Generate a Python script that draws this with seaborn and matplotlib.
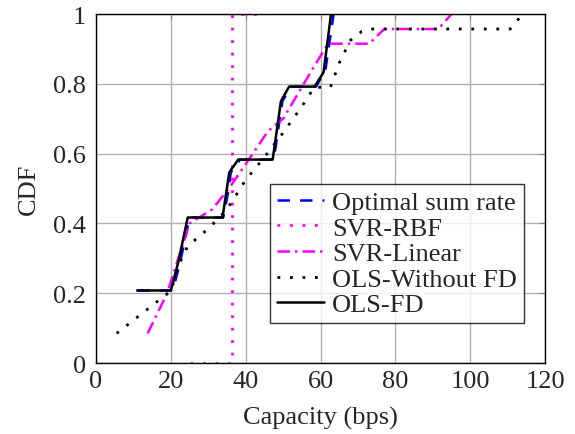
import matplotlib
matplotlib.use("Agg")
import matplotlib.pyplot as plt
import seaborn as sns
import numpy as np

# --- data ---
opt_x = [11, 20.5, 22.5, 25, 34, 35.5, 36, 38.5, 47.5, 49.8, 52, 58.8, 61.3, 63.5]
opt_y = [0.208, 0.208, 0.29, 0.417, 0.417, 0.50, 0.546, 0.583, 0.583, 0.75, 0.792, 0.792, 0.84, 1.0]

rbf_x = [25, 36.3, 36.3, 45]
rbf_y = [0.0, 0.0, 1.0, 1.0]

lin_x = [13.8, 19, 22, 25, 31, 35.5, 40, 46, 50, 58, 62, 73, 77, 91.5, 95]
lin_y = [0.085, 0.2, 0.3, 0.4, 0.44, 0.5, 0.57, 0.665, 0.7, 0.845, 0.915, 0.915, 0.957, 0.957, 1.0]

olsw_x = [5.5, 20, 22.5, 24.5, 30, 35, 40, 45, 50, 55, 58.3, 62.6, 65, 68, 71, 73.5, 110.7, 114]
olsw_y = [0.085, 0.207, 0.29, 0.335, 0.385, 0.44, 0.525, 0.59, 0.66, 0.735, 0.79, 0.79, 0.86, 0.925, 0.95, 0.957, 0.957, 1.0]

fd_x = [11, 20, 22, 24.5, 33.8, 35.6, 38, 47.2, 49.4, 51.6, 58.4, 60.8, 62.8]
fd_y = [0.208, 0.208, 0.29, 0.417, 0.417, 0.546, 0.583, 0.583, 0.75, 0.792, 0.792, 0.833, 1.0]

x_ticks = [0, 20, 40, 60, 80, 100, 120]
y_ticks = [0, 0.2, 0.4, 0.6, 0.8, 1.0]
y_ticklabels = ["0", "0.2", "0.4", "0.6", "0.8", "1"]

sns.set_style("white")
plt.rcParams['font.family'] = ['Liberation Serif', 'DejaVu Serif']

fig = plt.figure(figsize=(5.75, 4.35), dpi=100)
ax = fig.add_axes([0.167, 0.163, 0.781, 0.8025])

series = [
    (opt_x, opt_y, "Optimal sum rate", "blue", (0, (5, 4)), 1.8),
    (rbf_x, rbf_y, "SVR-RBF", "magenta", (0, (1, 3.5)), 2.0),
    (lin_x, lin_y, "SVR-Linear", "magenta", (0, (5, 2, 1, 2)), 1.8),
    (olsw_x, olsw_y, "OLS-Without FD", "black", (0, (1, 3.5)), 2.0),
    (fd_x, fd_y, "OLS-FD", "black", "-", 1.8),
]
for xs, ys, name, col, ls, lw in series:
    sns.lineplot(x=xs, y=ys, sort=False, estimator=None, ax=ax, label=name,
                 color=col, linestyle=ls, linewidth=lw)

ax.set_xlim(0, 120)
ax.set_ylim(0, 1)
ax.set_xticks(x_ticks)
ax.set_yticks(y_ticks)
ax.set_yticklabels(y_ticklabels)
ax.grid(True, color="#b0b0b0", linewidth=1.0)
ax.set_axisbelow(True)
ax.tick_params(direction="in", length=4, color="#888888", labelsize=19,
               top=True, right=True)
ax.tick_params(axis="y", pad=7)
ax.tick_params(axis="x", pad=5)
for sp in ax.spines.values():
    sp.set_color("black")
    sp.set_linewidth(1.0)

ax.set_xlabel("Capacity (bps)", fontsize=19, labelpad=10)
ax.set_ylabel("CDF", fontsize=19, labelpad=10)

leg = ax.legend(loc="lower right", bbox_to_anchor=(0.952, 0.115), fontsize=19,
                frameon=True, fancybox=False, handlelength=1.8, handletextpad=0.3,
                borderpad=0.25, labelspacing=0.08, borderaxespad=0)
leg.get_frame().set_edgecolor("black")
leg.get_frame().set_linewidth(1.0)

plt.savefig("out.png", dpi=100)
